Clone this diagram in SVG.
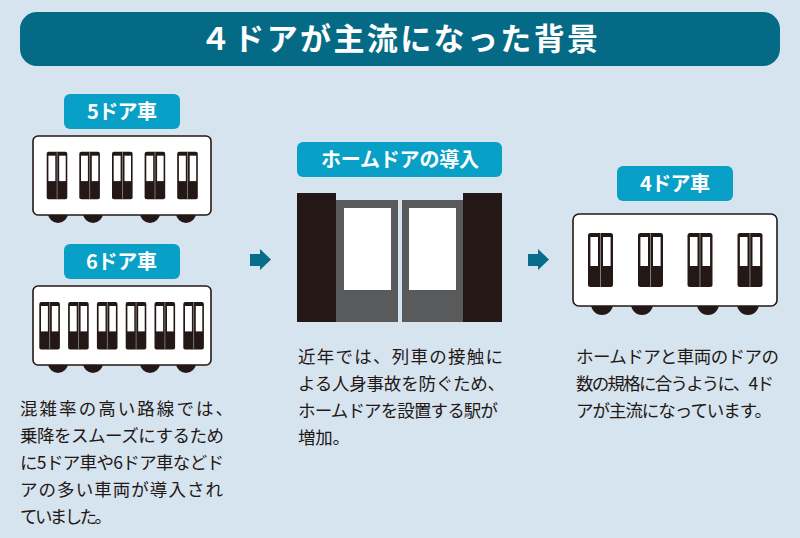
<svg xmlns="http://www.w3.org/2000/svg" xmlns:xlink="http://www.w3.org/1999/xlink" width="800" height="538" viewBox="0 0 800 538">
<style>
text{font-family:"Noto Sans CJK JP","Noto Sans",sans-serif}
.t{fill:#fff;font-weight:700;font-size:20px}
.b{fill:#231815;font-size:17.5px}
.lab{fill:#09a0c8}
.car{fill:#fff;stroke:#231815;stroke-width:1.6}
.k{fill:#231815}
.w{fill:#fff}
.g{fill:#595a5c}
.ar{fill:#066d8a}
</style>
<defs>
<g id="door"><rect class="k" x="0" y="0" width="20.6" height="47.6" rx="2"/><rect x="10" y="0" width="0.8" height="47.6" fill="#8a8a8a"/><rect class="w" x="1.700" y="4" width="6.9" height="25.4"/><rect class="w" x="12.500" y="4" width="6.5" height="25.4"/></g>
<g id="door4"><rect class="k" x="0" y="0" width="25" height="54" rx="2.5"/><rect x="12" y="0" width="0.9" height="54" fill="#8a8a8a"/><rect class="w" x="2.400" y="4" width="7.6" height="29"/><rect class="w" x="15" y="4" width="7.6" height="29"/></g>
<path id="arrow" class="ar" d="M0 5H10V0L21 10.500 10 21V17H0Z"/>
</defs>
<rect width="800" height="538" fill="#d6e4ef"/>
<g id="title"><rect x="20" y="12" width="760" height="54" rx="17" fill="#056a86"/><text x="200" y="50" fill="#fff" font-size="31" font-weight="700" textLength="398">４ドアが主流になった背景</text></g>
<g id="car5"><rect class="lab" x="64" y="94" width="116" height="35" rx="6"/><text class="t" x="87" y="118.500" textLength="70">5ドア車</text>
<circle class="k" cx="58" cy="213" r="10"/><circle class="k" cx="93" cy="213" r="10"/><circle class="k" cx="150" cy="213" r="10"/><circle class="k" cx="186" cy="213" r="10"/>
<rect class="car" x="33" y="136" width="178" height="79" rx="5"/>
<use href="#door" x="46.700" y="151.700"/><use href="#door" x="79.300" y="151.700"/><use href="#door" x="112" y="151.700"/><use href="#door" x="144.600" y="151.700"/><use href="#door" x="177.200" y="151.700"/></g>
<g id="car6"><rect class="lab" x="64" y="244" width="116" height="35" rx="6"/><text class="t" x="86" y="268.500" textLength="71">6ドア車</text>
<circle class="k" cx="58" cy="363" r="10"/><circle class="k" cx="93" cy="363" r="10"/><circle class="k" cx="150" cy="363" r="10"/><circle class="k" cx="186" cy="363" r="10"/>
<rect class="car" x="33" y="286" width="178" height="79" rx="5"/>
<use href="#door" x="39.300" y="302"/><use href="#door" x="68.100" y="302"/><use href="#door" x="96.900" y="302"/><use href="#door" x="125.700" y="302"/><use href="#door" x="154.500" y="302"/><use href="#door" x="183.300" y="302"/></g>
<g id="homedoor"><rect class="lab" x="297" y="142" width="205" height="35" rx="6"/><text class="t" x="321" y="167" textLength="158">ホームドアの導入</text>
<rect class="g" x="336" y="200" width="62" height="122"/><rect class="g" x="402" y="200" width="61" height="122"/>
<rect class="w" x="344" y="208" width="47" height="82"/><rect class="w" x="409" y="208" width="47" height="82"/>
<rect class="k" x="297" y="193" width="39" height="129"/><rect class="k" x="463" y="193" width="39" height="129"/></g>
<g id="car4"><rect class="lab" x="617" y="166" width="116" height="35" rx="6"/><text class="t" x="640" y="191" textLength="70">4ドア車</text>
<circle class="k" cx="602" cy="304" r="11"/><circle class="k" cx="642" cy="304" r="11"/><circle class="k" cx="708" cy="304" r="11"/><circle class="k" cx="748" cy="304" r="11"/>
<rect class="car" x="573" y="214" width="204" height="92" rx="6"/>
<use href="#door4" x="588" y="233"/><use href="#door4" x="638" y="233"/><use href="#door4" x="687.500" y="233"/><use href="#door4" x="737.500" y="233"/></g>
<g id="connectors"><use href="#arrow" x="250" y="249"/><use href="#arrow" x="528" y="249"/></g>
<g id="text1"><text class="b" x="20" y="415" textLength="213">混雑率の高い路線では、</text><text class="b" x="20" y="442" textLength="204">乗降をスムーズにするため</text><text class="b" x="20" y="469" textLength="204">に5ドア車や6ドア車などド</text><text class="b" x="20" y="496" textLength="203">アの多い車両が導入され</text><text class="b" x="20" y="523" textLength="92">ていました。</text></g>
<g id="text2"><text class="b" x="298" y="363" textLength="205">近年では、列車の接触に</text><text class="b" x="298" y="390" textLength="207">よる人身事故を防ぐため、</text><text class="b" x="298" y="417" textLength="200">ホームドアを設置する駅が</text><text class="b" x="298" y="444" textLength="52">増加。</text></g>
<g id="text3"><text class="b" x="576" y="363" textLength="203">ホームドアと車両のドアの</text><text class="b" x="576" y="390" textLength="198">数の規格に合うように、4ド</text><text class="b" x="576" y="417" textLength="196">アが主流になっています。</text></g>
</svg>
